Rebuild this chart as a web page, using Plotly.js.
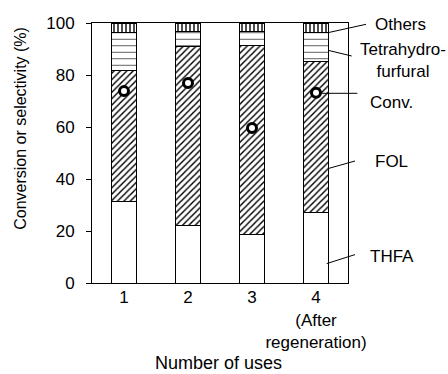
<!DOCTYPE html>
<html>
<head>
<meta charset="utf-8">
<script src="https://cdn.plot.ly/plotly-3.0.1.min.js"></script>
<style>
  html, body { margin: 0; padding: 0; background: #fff; }
  #chart { width: 448px; height: 374px; }
</style>
</head>
<body>
<div id="chart"></div>
<script>
// Catalyst reuse runs
const uses = ['1', '2', '3', '4<br>(After<br>regeneration)'];

// Product selectivity (%), stacked from the bottom
const thfa = [31.4, 22.3, 18.8, 27.2];
const fol = [50.3, 68.5, 72.6, 58.1];
const thfural = [14.7, 6.1, 5.5, 11.0];
const others = [3.6, 3.1, 3.1, 3.7];

// Conversion (%)
const conv = [73.8, 76.9, 59.6, 73.2];

const FONT = 'Arial, "Liberation Sans", sans-serif';
const barLine = { color: '#000', width: 1 };
const BAR_W = 0.39;

const traces = [
  {
    type: 'bar', name: 'THFA', x: uses, y: thfa, width: BAR_W,
    marker: { color: '#fff', line: barLine }
  },
  {
    type: 'bar', name: 'FOL', x: uses, y: fol, width: BAR_W,
    marker: {
      color: '#fff', line: barLine,
      pattern: { shape: '/', fgcolor: '#000', bgcolor: '#fff', size: 4.5, solidity: 0.32 }
    }
  },
  {
    type: 'bar', name: 'Tetrahydrofurfural', x: uses, y: thfural, width: BAR_W,
    marker: {
      color: '#fff', line: barLine,
      pattern: { shape: '-', fgcolor: '#333', bgcolor: '#fff', size: 6.5, solidity: 0.12 }
    }
  },
  {
    type: 'bar', name: 'Others', x: uses, y: others, width: BAR_W,
    marker: {
      color: '#fff', line: barLine,
      pattern: { shape: '|', fgcolor: '#000', bgcolor: '#fff', size: 4, solidity: 0.35 }
    }
  },
  {
    type: 'scatter', mode: 'markers', name: 'Conv.', x: uses, y: conv,
    marker: { symbol: 'circle', size: 9, color: '#fff', line: { color: '#000', width: 3 } },
    cliponaxis: false
  }
];

// Plot area spans 256 x 260 px; helpers turn pixel offsets into paper units
const PW = 256, PH = 260;
const px = v => (v - 92) / PW;
const py = v => (282.7 - v) / PH;

const leader = (x0, y0, x1, y1) => ({
  type: 'line', xref: 'paper', yref: 'paper',
  x0: px(x0), y0: py(y0), x1: px(x1), y1: py(y1),
  line: { color: '#000', width: 1 }
});

const label = (text, x, y, anchor, size, angle) => ({
  text: text, xref: 'paper', yref: 'paper',
  x: px(x), y: py(y), xanchor: anchor || 'left', yanchor: 'middle',
  showarrow: false, align: 'center', textangle: angle || 0,
  font: { family: FONT, size: size || 17, color: '#000' }
});

const layout = {
  width: 448, height: 374,
  margin: { l: 92, r: 100, t: 23, b: 91.3 },
  paper_bgcolor: '#fff', plot_bgcolor: '#fff',
  barmode: 'stack',
  showlegend: false,
  font: { family: FONT, size: 17, color: '#000' },
  xaxis: {
    type: 'category',
    range: [-0.5, 3.5],
    showline: true, linecolor: '#000', linewidth: 1, mirror: true,
    ticks: '', showgrid: false, zeroline: false,
    tickfont: { family: FONT, size: 17, color: '#000' },
    ticklabelstandoff: -1
  },
  yaxis: {
    range: [0, 100],
    tickvals: [0, 20, 40, 60, 80, 100],
    showline: true, linecolor: '#000', linewidth: 1, mirror: true,
    ticks: 'outside', ticklen: 5, tickwidth: 1, tickcolor: '#000',
    showgrid: false, zeroline: false,
    tickfont: { family: FONT, size: 17, color: '#000' },
    ticklabelstandoff: 8
  },
  shapes: [
    leader(328.3, 32.3, 366, 24),
    leader(328, 50, 351.7, 55.7),
    leader(321.7, 93, 357.3, 93),
    leader(328, 168.3, 355, 160.7),
    leader(326.7, 263.3, 355, 254.3)
  ],
  annotations: [
    // axis titles
    label('Number of uses', 218.5, 362.5, 'center', 18),
    label('Conversion or selectivity (%)', 21, 128.5, 'center', 16, -90),
    // series call-outs
    label('Others', 373, 24),
    label('Tetrahydro-<br>furfural', 402.5, 60.5, 'center'),
    label('Conv.', 368, 101.7),
    label('FOL', 373, 160.7),
    label('THFA', 368, 255.7)
  ]
};

Plotly.newPlot('chart', traces, layout, { displayModeBar: false, staticPlot: true });
</script>
</body>
</html>
